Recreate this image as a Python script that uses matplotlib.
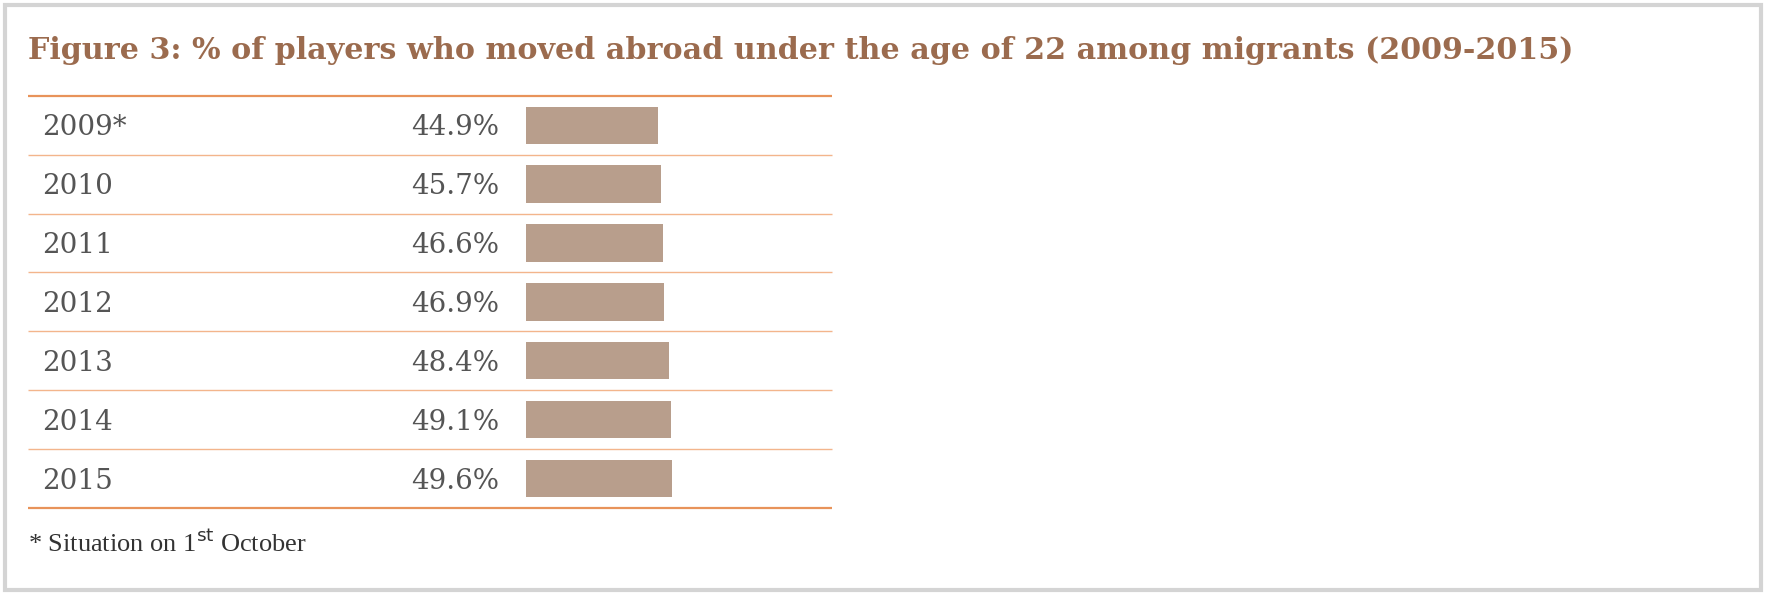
import matplotlib.pyplot as plt
from matplotlib.patches import Rectangle

years = ['2009*', '2010', '2011', '2012', '2013', '2014', '2015']
shares = [44.9, 45.7, 46.6, 46.9, 48.4, 49.1, 49.6]

title = 'Figure 3: % of players who moved abroad under the age of 22 among migrants (2009-2015)'
note = '* Situation on 1$^{\\mathrm{st}}$ October'

W, H = 1566, 528
fig = plt.figure(figsize=(17.66, 5.94), dpi=100)
ax = fig.add_axes([0, 0, 1, 1])
ax.set_xlim(0, W)
ax.set_ylim(H, 0)
ax.axis('off')

ax.add_patch(Rectangle((4, 4), W - 8, H - 8, fill=False, ec='#d4d4d4', lw=3))
ax.text(25, 45, title, fontsize=21.7, fontweight='bold', family='DejaVu Serif',
        color='#9b6b4e', va='center', ha='left')

row_top = 85
row_h = 52.4
for i in range(len(years) + 1):
    yy = row_top + i * row_h
    edge = i == 0 or i == len(years)
    ax.plot([25, 738], [yy, yy], color='#e8935a' if edge else '#f3b58c',
            lw=1.6 if edge else 1.0, solid_capstyle='butt')

centers = [row_top + (i + 0.5) * row_h for i in range(len(years))]
ax.barh(centers, [v * 2.62 for v in shares], left=466, height=33,
        color='#b89e8c', linewidth=0)
for c, yr, v in zip(centers, years, shares):
    ax.text(37, c + 2, yr, fontsize=20, family='DejaVu Serif',
            color='#555555', va='center', ha='left')
    ax.text(443, c + 2, f'{v:.1f}%', fontsize=20, family='DejaVu Serif',
            color='#555555', va='center', ha='right')

ax.text(25, 483, note, fontsize=19, family='Liberation Serif',
        color='#333333', va='center', ha='left')

fig.savefig('out.png', dpi=100, facecolor='white')
